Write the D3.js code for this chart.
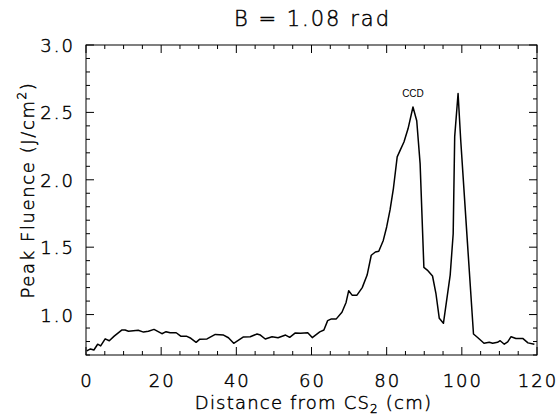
<!DOCTYPE html>
<html><head><meta charset="utf-8">
<script src="https://cdn.jsdelivr.net/npm/d3@7"></script>
<style>body{margin:0;background:#fff}svg{display:block}text.lbl{font-family:"DejaVu Sans",sans-serif;fill:#000;font-weight:200;stroke:#000;stroke-width:0.45}</style>
</head><body><svg id="c" width="557" height="416"></svg>
<script>
const distance = [0.2,1.2,2.1,3.1,3.9,5.1,6.2,7.5,9.5,10.4,11.3,13.9,15.3,16.6,18.1,20.2,21.3,22.4,24,25.2,26.7,27.9,29.3,30.2,32.2,34.4,36.6,37.9,39.3,40.6,41.9,43.7,45.5,46.4,47.7,49.5,51.1,53.1,54.2,55.7,57.1,59,60.2,62.2,63.3,64.3,65.3,66.6,68.1,69.2,69.9,70.8,72.1,73.5,74.8,75.9,77,77.9,79.1,80,80.9,81.8,82.8,83.7,84.6,85.7,87,88,88.9,89.9,90.8,92.2,93.1,94,95.1,96.9,97.7,98.1,99,99.7,101.5,103.1,104.2,105.9,107.3,108.2,109.5,110.2,111.3,112.2,113.1,114.4,116.2,117.6,119.3];
const fluence = [0.73,0.745,0.737,0.78,0.767,0.82,0.806,0.84,0.885,0.885,0.876,0.883,0.87,0.876,0.89,0.858,0.873,0.865,0.865,0.84,0.84,0.824,0.794,0.816,0.819,0.853,0.848,0.828,0.787,0.81,0.834,0.835,0.856,0.848,0.819,0.836,0.828,0.848,0.831,0.864,0.862,0.865,0.829,0.872,0.885,0.955,0.968,0.968,1.017,1.09,1.177,1.144,1.144,1.2,1.293,1.44,1.464,1.47,1.55,1.65,1.776,1.937,2.17,2.226,2.28,2.38,2.54,2.438,2.12,1.35,1.33,1.286,1.158,0.972,0.935,1.293,1.6,2.32,2.64,2.295,1.53,0.856,0.83,0.787,0.794,0.787,0.794,0.806,0.78,0.797,0.836,0.823,0.823,0.79,0.78];
const xTicks = [0,20,40,60,80,100,120];
const yTicks = [1.0,1.5,2.0,2.5,3.0];
const title = "B = 1.08 rad";
const annotation = {text:"CCD", x:87, y:2.6};

const svg = d3.select("#c");
const L=86,R=537,T=45,B=355;
const x = d3.scaleLinear().domain([0,120]).range([L,R]);
const y = d3.scaleLinear().domain([0.7,3.0]).range([B,T]);

const xMinor = d3.range(0,121,5), yMinor = d3.range(0.7,3.0001,0.1).map(v=>+v.toFixed(1));
const g = svg.append("g").attr("stroke","#000").attr("stroke-width",1).attr("fill","none");
g.append("rect").attr("x",L).attr("y",T).attr("width",R-L).attr("height",B-T);
xMinor.forEach(v=>{
  const len = xTicks.includes(v)?8:4;
  g.append("line").attr("x1",x(v)).attr("x2",x(v)).attr("y1",B).attr("y2",B-len);
  g.append("line").attr("x1",x(v)).attr("x2",x(v)).attr("y1",T).attr("y2",T+len);
});
yMinor.forEach(v=>{
  const len = yTicks.some(t=>Math.abs(t-v)<1e-6)?8:4;
  g.append("line").attr("x1",L).attr("x2",L+len).attr("y1",y(v)).attr("y2",y(v));
  g.append("line").attr("x1",R).attr("x2",R-len).attr("y1",y(v)).attr("y2",y(v));
});
svg.append("g").selectAll("text").data(xTicks).join("text").attr("class","lbl")
  .attr("x",d=>x(d)+1).attr("y",B+32).attr("text-anchor","middle").attr("font-size",18)
  .attr("letter-spacing",2).text(d=>d);
svg.append("g").selectAll("text").data(yTicks).join("text").attr("class","lbl")
  .attr("x",L-11).attr("y",d=>y(d)+7).attr("text-anchor","end").attr("font-size",18)
  .attr("letter-spacing",2).text(d=>d.toFixed(1));
const pts = distance.map((d,i)=>[d,fluence[i]]);
svg.append("path").datum(pts).attr("fill","none").attr("stroke","#000").attr("stroke-width",1.5)
  .attr("stroke-linejoin","round")
  .attr("d",d3.line().x(d=>x(d[0])).y(d=>y(d[1])));
svg.append("text").attr("class","lbl").attr("x",(L+R)/2+1).attr("y",26).attr("text-anchor","middle").attr("font-size",21)
  .attr("letter-spacing",2).text(title);
const xl = svg.append("text").attr("class","lbl").attr("x",(L+R)/2+2).attr("y",409).attr("text-anchor","middle").attr("font-size",18).attr("letter-spacing",1.2);
xl.append("tspan").text("Distance from CS");
xl.append("tspan").attr("font-size",12).attr("dy",4).text("2");
xl.append("tspan").attr("dy",-4).text(" (cm)");
const yl = svg.append("text").attr("class","lbl").attr("transform",`translate(34,${(T+B)/2-10}) rotate(-90)`).attr("text-anchor","middle").attr("font-size",18).attr("letter-spacing",1.6);
yl.append("tspan").text("Peak Fluence (J/cm");
yl.append("tspan").attr("font-size",12).attr("dy",-8).text("2");
yl.append("tspan").attr("dy",8).text(")");
svg.append("text").attr("x",x(annotation.x)).attr("y",y(annotation.y)-2).attr("text-anchor","middle")
  .attr("font-family","Liberation Sans, Arial, sans-serif").attr("font-size",10).attr("fill","#000").text(annotation.text);
</script></body></html>
